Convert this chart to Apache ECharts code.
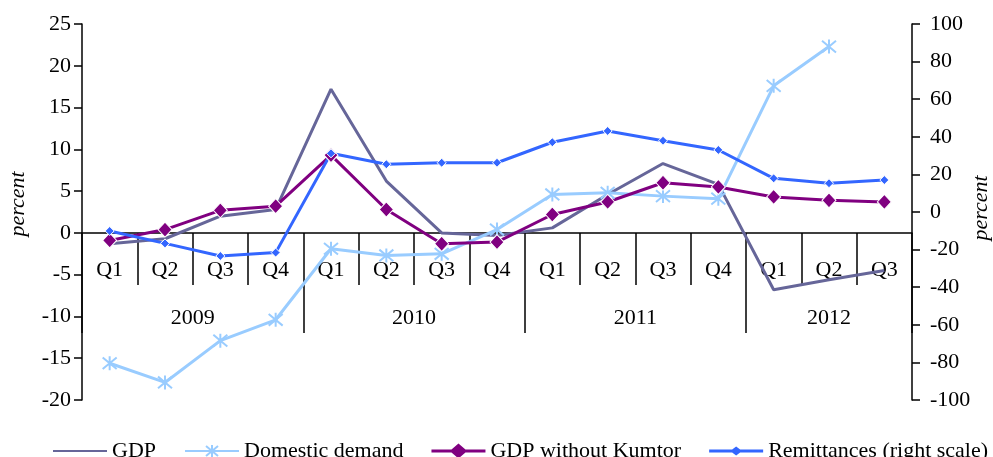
<!DOCTYPE html>
<html>
<head>
<meta charset="utf-8">
<title>GDP, domestic demand and remittances</title>
<script src="https://cdn.jsdelivr.net/npm/echarts@6/dist/echarts.min.js"></script>
<style>
    html, body { margin: 0; padding: 0; background: #fff; }
    #chart { width: 993px; height: 457px; }
</style>
</head>
<body>
<div id="chart"></div>
<script>
    // categories
    var quarters = ['Q1', 'Q2', 'Q3', 'Q4', 'Q1', 'Q2', 'Q3', 'Q4', 'Q1', 'Q2', 'Q3', 'Q4', 'Q1', 'Q2', 'Q3'];
    var years = ['2009', '2010', '2011', '2012'];
    var quartersPerYear = [4, 4, 4, 3];

    // series (percent)
    var gdp = [-1.3, -0.7, 2.0, 2.8, 17.2, 6.2, 0.0, -0.3, 0.6, 4.6, 8.3, 5.8, -6.8, -5.6, -4.5];
    var domesticDemand = [-15.6, -17.9, -12.9, -10.4, -1.9, -2.7, -2.5, 0.4, 4.6, 4.8, 4.4, 4.1, 17.6, 22.3, null];
    var gdpNoKumtor = [-0.9, 0.4, 2.7, 3.2, 9.3, 2.8, -1.3, -1.1, 2.2, 3.7, 6.0, 5.5, 4.3, 3.9, 3.7];
    var remittances = [-10.1, -16.7, -23.4, -21.6, 31.2, 25.4, 26.2, 26.2, 37.1, 43.1, 37.9, 33.0, 17.9, 15.3, 17.0];

    // axis ticks: [min, max, step]
    var leftTicks = [-20, 25, 5];
    var rightTicks = [-100, 100, 20];

    var FONT = "'Liberation Serif', 'Times New Roman', serif";
    var FS = 22;
    var GRID_TOP = 24, GRID_BOTTOM = 57, H = 457;

    // the quarter row sits on the left axis' zero line
    var plotH = H - GRID_TOP - GRID_BOTTOM;
    var zeroOffset = -plotH * (0 - leftTicks[0]) / (leftTicks[1] - leftTicks[0]);

    // year row: half-quarter slots so a label can sit in the middle of a year
    var yearBreaks = [0];
    var pos = 0;
    for (var i = 0; i < years.length; i++) {
        pos += quartersPerYear[i];
        yearBreaks.push(pos);
    }
    var yearSlots = [];
    for (var k = 0; k <= quarters.length * 2; k++) yearSlots.push('');
    for (var j = 0; j < years.length; j++) {
        yearSlots[(yearBreaks[j] + quartersPerYear[j] / 2) * 2] = years[j];
    }

    var asterisk = 'path://M0 0L10 10M10 0L0 10M5 -1L5 11';
    // legend icons: line sample with a diamond in the middle (54 x 15 box)
    var bigDiamondIcon = 'path://M0 6L20 6L27 0L34 6L54 6L54 9L34 9L27 15L20 9L0 9Z';
    var smallDiamondIcon = 'path://M0 6L23 6L27 3L31 6L54 6L54 9L31 9L27 12L23 9L0 9Z';

    var myChart = echarts.init(document.getElementById('chart'));
    var option = {
        animation: false,
        textStyle: { fontFamily: FONT },
        grid: { left: 82, right: 81, top: GRID_TOP, bottom: GRID_BOTTOM, containLabel: false, outerBoundsMode: 'none' },
        legend: {
            left: 47,
            top: 435,
            itemWidth: 54,
            itemHeight: 15,
            itemGap: 28,
            textStyle: { fontFamily: FONT, fontSize: FS, color: '#000' },
            data: [
                { name: 'GDP', itemStyle: { opacity: 0 } },
                'Domestic demand',
                { name: 'GDP without Kumtor', icon: bigDiamondIcon, itemStyle: { borderWidth: 0 } },
                { name: 'Remittances (right scale)', icon: smallDiamondIcon, itemStyle: { borderWidth: 0 } }
            ]
        },
        xAxis: [
            {
                type: 'category',
                data: quarters,
                boundaryGap: true,
                offset: zeroOffset,
                axisLine: { show: true, onZero: false, lineStyle: { color: '#000', width: 1.5 } },
                axisTick: { show: true, interval: 0, length: 52, lineStyle: { color: '#000', width: 1.5 } },
                axisLabel: { interval: 0, margin: 26, fontSize: FS, color: '#000', fontFamily: FONT }
            },
            {
                type: 'category',
                position: 'bottom',
                data: yearSlots,
                boundaryGap: false,
                offset: zeroOffset,
                axisLine: { show: false, onZero: false },
                axisTick: {
                    show: true,
                    length: 100,
                    interval: function (idx) { return yearBreaks.indexOf(idx / 2) >= 0; },
                    lineStyle: { color: '#000', width: 1.5 }
                },
                axisLabel: { interval: 0, margin: 74, fontSize: FS, color: '#000', fontFamily: FONT }
            }
        ],
        yAxis: [
            {
                type: 'value',
                min: leftTicks[0], max: leftTicks[1], interval: leftTicks[2],
                name: 'percent',
                nameLocation: 'middle',
                nameRotate: 90,
                nameGap: 53,
                nameMoveOverlap: false,
                nameTextStyle: { fontSize: FS, fontStyle: 'italic', color: '#000', fontFamily: FONT, padding: [0, 0, 0, 16] },
                splitLine: { show: false },
                axisLine: { show: true, lineStyle: { color: '#000', width: 1.5 } },
                axisTick: { show: true, length: 8, lineStyle: { color: '#000', width: 1.5 } },
                axisLabel: { margin: 11, fontSize: FS, color: '#000', fontFamily: FONT }
            },
            {
                type: 'value',
                position: 'right',
                min: rightTicks[0], max: rightTicks[1], interval: rightTicks[2],
                name: 'percent',
                nameLocation: 'middle',
                nameRotate: 90,
                nameGap: 58,
                nameMoveOverlap: false,
                nameTextStyle: { fontSize: FS, fontStyle: 'italic', color: '#000', fontFamily: FONT, padding: [0, 0, 0, 8] },
                splitLine: { show: false },
                axisLine: { show: true, lineStyle: { color: '#000', width: 1.5 } },
                axisTick: { show: true, length: 8, lineStyle: { color: '#000', width: 1.5 } },
                axisLabel: { margin: 18, fontSize: FS, color: '#000', fontFamily: FONT }
            }
        ],
        series: [
            {
                name: 'GDP',
                type: 'line',
                data: gdp,
                showSymbol: false,
                symbol: 'none',
                color: '#666699',
                lineStyle: { width: 3, color: '#666699' }
            },
            {
                name: 'Domestic demand',
                type: 'line',
                data: domesticDemand,
                symbol: asterisk,
                symbolSize: 14,
                color: '#99CCFF',
                lineStyle: { width: 3, color: '#99CCFF' },
                itemStyle: { color: '#99CCFF', borderColor: '#99CCFF', borderWidth: 2 }
            },
            {
                name: 'GDP without Kumtor',
                type: 'line',
                data: gdpNoKumtor,
                symbol: 'diamond',
                symbolSize: [14, 15],
                color: '#800080',
                lineStyle: { width: 3, color: '#800080' },
                itemStyle: { color: '#800080', borderColor: '#fff', borderWidth: 1 }
            },
            {
                name: 'Remittances (right scale)',
                type: 'line',
                yAxisIndex: 1,
                data: remittances,
                symbol: 'diamond',
                symbolSize: 9,
                color: '#3366FF',
                lineStyle: { width: 3, color: '#3366FF' },
                itemStyle: { color: '#3366FF', borderColor: '#fff', borderWidth: 1 }
            }
        ]
    };
    myChart.setOption(option);
</script>
</body>
</html>
